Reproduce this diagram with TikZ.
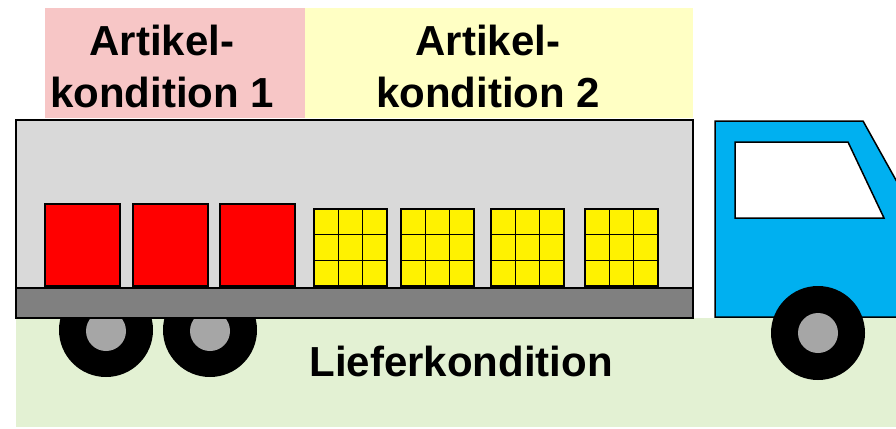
\documentclass[tikz,border=0pt]{standalone}
\usepackage{fontspec}
\setmainfont{Liberation Sans}
\definecolor{zonepink}{HTML}{F7C6C6}
\definecolor{zoneyellow}{HTML}{FFFFC4}
\definecolor{zonegreen}{HTML}{E3F1D3}
\definecolor{bodygray}{HTML}{D9D9D9}
\definecolor{bedgray}{HTML}{808080}
\definecolor{hubgray}{HTML}{A6A6A6}
\definecolor{cabblue}{HTML}{00B0F0}
\newcommand\mygridcell{73/3}

\begin{document}
\begin{tikzpicture}[
    x=1pt, y=-1pt,
    outline/.style = {
        draw=black,
        line width=1.5pt
      },
    zone/.style = {
        draw=none
      },
    condition/.style = {
        font=\fontsize{42}{52}\selectfont\bfseries,
        align=center,
        inner sep=0pt
      },
    ]
    \useasboundingbox (0,0) rectangle (896,428);
    \clip (0,0) rectangle (896,428);

    % zones behind the truck
    \fill [zone, zonepink] (45,8) rectangle (305,118);
    \fill [zone, zoneyellow] (305,8) rectangle (693,118);
    \fill [zone, zonegreen] (16,318) rectangle (896,427);

    % trailer wheels
    \foreach \x in {106,210} {
        \fill [black] (\x,330) circle (47);
        \fill [hubgray] (\x,331) circle (20);
      }

    % trailer
    \draw [outline, fill=bodygray] (16,120) rectangle (693,288);
    \draw [outline, fill=bedgray] (16,288) rectangle (693,318);

    % red load
    \foreach \x in {45,133,220}
    \draw [outline, fill=red] (\x,204) rectangle +(75,82);

    % yellow load
    \foreach \x in {314,401,491,585} {
        \draw [outline, fill=yellow] (\x,209) rectangle +(73,77);
        \foreach \i in {1,2} {
            \draw [outline] (\x+\i*\mygridcell,209) -- +(0,77);
            \draw [outline] (\x,209+\i*77/3) -- +(73,0);
          }
      }

    % cab
    \draw [outline, fill=cabblue] (715,121) -- (863,121) -- (921,225) -- (921,317) -- (715,317) -- cycle;
    \draw [outline, fill=white] (735,142) -- (848,142) -- (884,218) -- (735,218) -- cycle;
    \fill [black] (818,333) circle (47);
    \fill [hubgray] (818,333) circle (20);

    % labels
    \node (cond1) [condition] at (162,66) {Artikel-\\kondition 1};
    \node (cond2) [condition] at (488,66) {Artikel-\\kondition 2};
    \node (delivery) [condition, anchor=base] at (461,376) {Lieferkondition};
  \end{tikzpicture}
\end{document}
